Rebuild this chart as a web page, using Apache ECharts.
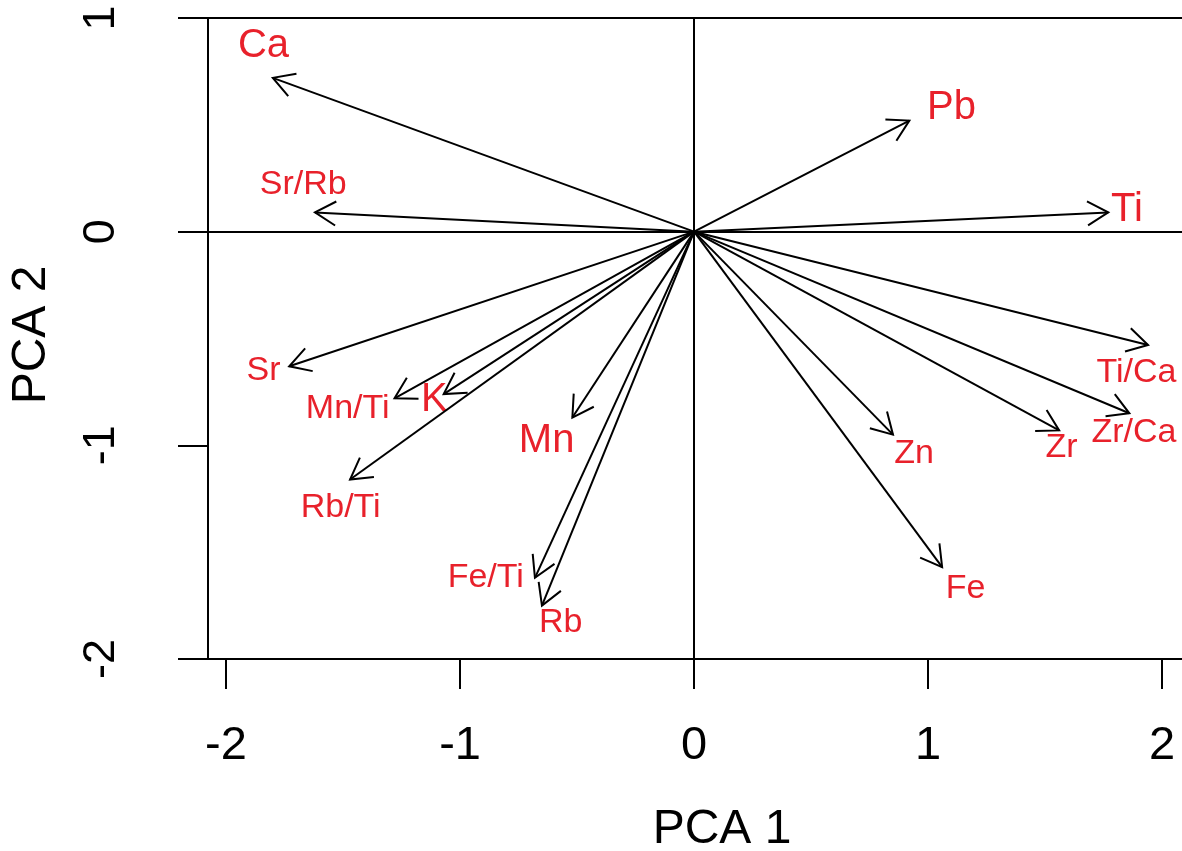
<!DOCTYPE html>
<html>
<head>
<meta charset="utf-8">
<script src="https://cdn.jsdelivr.net/npm/echarts@6/dist/echarts.min.js"></script>
<style>
  html, body { margin: 0; padding: 0; background: #ffffff; }
  #chart { width: 1182px; height: 851px; }
</style>
</head>
<body>
<div id="chart"></div>
<script>
// ---- data (PCA loadings) ----
const variables = ['Ca', 'Sr/Rb', 'Pb', 'Ti', 'Ti/Ca', 'Zr/Ca', 'Zr', 'Zn', 'Fe', 'Sr', 'Mn/Ti', 'K', 'Rb/Ti', 'Mn', 'Fe/Ti', 'Rb'];
const pc1 = [-1.80, -1.62, 0.92, 1.77, 1.94, 1.86, 1.56, 0.85, 1.06, -1.73, -1.28, -1.07, -1.47, -0.52, -0.68, -0.65];
const pc2 = [0.72, 0.09, 0.52, 0.09, -0.53, -0.85, -0.93, -0.95, -1.57, -0.63, -0.78, -0.76, -1.16, -0.87, -1.62, -1.75];
// label anchor positions (in PCA units)
const labelPc1 = [-1.84, -1.67, 1.10, 1.85, 1.89, 1.88, 1.57, 0.94, 1.16, -1.84, -1.48, -1.11, -1.51, -0.63, -0.89, -0.57];
const labelPc2 = [0.87, 0.22, 0.58, 0.10, -0.66, -0.94, -1.01, -1.04, -1.67, -0.65, -0.83, -0.79, -1.29, -0.98, -1.62, -1.83];
const xTicks = [-2, -1, 0, 1, 2];
const yTicks = [-2, -1, 0, 1];
const xTitle = 'PCA 1';
const yTitle = 'PCA 2';

// ---- styles ----
const FONT = '"Liberation Sans", Arial, sans-serif';
const RED = '#e8212b';
const bigLabels = ['Ca', 'Pb', 'Ti', 'K', 'Mn'];

const chart = echarts.init(document.getElementById('chart'), null, { renderer: 'canvas' });

const XMIN = -2.077, XMAX = 2.085;

const option = {
  backgroundColor: '#ffffff',
  animation: false,
  grid: {
    left: 208, top: 18, right: -2, bottom: 192, show: false
  },
  xAxis: [
    {
      type: 'value', min: XMIN, max: XMAX, position: 'bottom',
      axisLine: { show: true, onZero: false, lineStyle: { color: '#000', width: 2 } },
      axisTick: { show: true, length: 30, inside: false, customValues: xTicks, lineStyle: { color: '#000', width: 2 } },
      axisLabel: { show: true, customValues: xTicks, margin: 64, color: '#000', fontSize: 47, fontFamily: FONT },
      splitLine: { show: false }
    },
    {
      type: 'value', min: XMIN, max: XMAX, position: 'top',
      axisLine: { show: true, onZero: false, lineStyle: { color: '#000', width: 2 } },
      axisTick: { show: false }, axisLabel: { show: false }, splitLine: { show: false }
    }
  ],
  yAxis: {
    type: 'value', min: -2, max: 1, interval: 1,
    axisLine: { show: true, onZero: false, lineStyle: { color: '#000', width: 2 } },
    axisTick: { show: true, length: 30, inside: false, lineStyle: { color: '#000', width: 2 } },
    axisLabel: { show: true, rotate: 90, margin: 84, color: '#000', fontSize: 45, fontFamily: FONT },
    splitLine: { show: false }
  },
  graphic: [
    { type: 'text', x: 722, y: 830, style: { text: xTitle, fill: '#000', font: '48px ' + FONT, align: 'center', verticalAlign: 'middle' } },
    { type: 'text', x: 32, y: 335, rotation: Math.PI / 2, style: { text: yTitle, fill: '#000', font: '48px ' + FONT, align: 'center', verticalAlign: 'middle' } }
  ],
  series: [
    {
      type: 'line', data: [], silent: true, xAxisIndex: 0,
      markLine: {
        silent: true, symbol: ['none', 'none'], label: { show: false },
        lineStyle: { color: '#000', width: 2, type: 'solid' },
        data: [{ xAxis: 0 }, { yAxis: 0 }]
      }
    },
    {
      type: 'custom',
      xAxisIndex: 0,
      clip: false,
      data: variables.map((v, i) => [pc1[i], pc2[i], labelPc1[i], labelPc2[i]]),
      renderItem: function (params, api) {
        const o = api.coord([0, 0]);
        const t = api.coord([api.value(0), api.value(1)]);
        const lab = api.coord([api.value(2), api.value(3)]);
        const ang = Math.atan2(t[1] - o[1], t[0] - o[0]);
        const L = 24, a = Math.PI / 6;
        const p1 = [t[0] - L * Math.cos(ang - a), t[1] - L * Math.sin(ang - a)];
        const p2 = [t[0] - L * Math.cos(ang + a), t[1] - L * Math.sin(ang + a)];
        const name = variables[params.dataIndex];
        const fs = bigLabels.indexOf(name) >= 0 ? 40 : 34;
        return {
          type: 'group',
          children: [
            { type: 'line', shape: { x1: o[0], y1: o[1], x2: t[0], y2: t[1] }, style: { stroke: '#000', lineWidth: 2 } },
            { type: 'polyline', shape: { points: [p1, t, p2] }, style: { stroke: '#000', lineWidth: 2, fill: null } },
            { type: 'text', x: lab[0], y: lab[1], style: { text: name, fill: RED, font: fs + 'px ' + FONT, align: 'center', verticalAlign: 'middle' } }
          ]
        };
      }
    }
  ]
};
chart.setOption(option);
</script>
</body>
</html>
